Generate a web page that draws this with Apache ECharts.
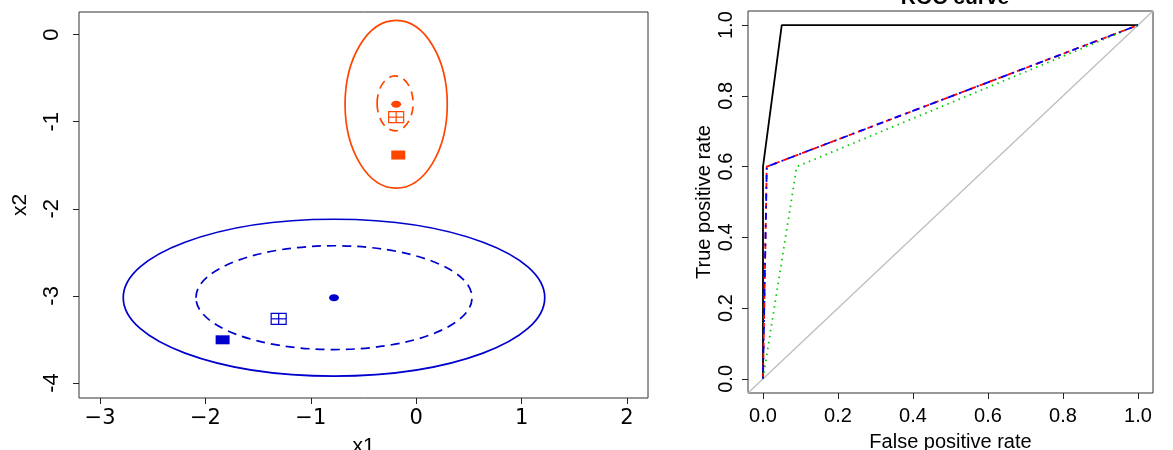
<!DOCTYPE html>
<html><head><meta charset="utf-8">
<script src="https://cdn.jsdelivr.net/npm/echarts@6/dist/echarts.min.js"></script>
<style>html,body{margin:0;padding:0;background:#fff}#c{width:1173px;height:450px}</style>
</head><body><div id="c"></div>
<script>
// ---------- left panel: class ellipses and markers ----------
const ellipseGroup = ['blue', 'blue', 'orange', 'orange'];
const ellipseLevel = ['outer', 'inner', 'outer', 'inner'];
const ellipseCx = [-0.78, -0.78, -0.19, -0.20];
const ellipseCy = [-3.02, -3.02, -0.80, -0.79];
const ellipseRx = [2.00, 1.31, 0.485, 0.171];
const ellipseRy = [0.90, 0.596, 0.963, 0.315];

const pointGroup = ['blue', 'blue', 'blue', 'orange', 'orange', 'orange'];
const pointShape = ['dot', 'boxcross', 'square', 'dot', 'boxcross', 'square'];
const pointX = [-0.78, -1.305, -1.837, -0.19, -0.19, -0.17];
const pointY = [-3.02, -3.263, -3.504, -0.80, -0.948, -1.383];

const leftXTicks = [-3, -2, -1, 0, 1, 2];
const leftYTicks = [-4, -3, -2, -1, 0];

// ---------- right panel: ROC curves ----------
const rocBlackFPR = [0, 0, 0.05, 1];
const rocBlackTPR = [0, 0.6, 1, 1];
const rocRedFPR = [0, 0.01, 1];
const rocRedTPR = [0, 0.6, 1];
const rocBlueFPR = [0, 0.01, 1];
const rocBlueTPR = [0, 0.6, 1];
const rocGreenFPR = [0, 0.09, 1];
const rocGreenTPR = [0, 0.6, 1];
const diagFPR = [-0.04, 1.04];
const diagTPR = [-0.04, 1.04];
const rocTicks = [0, 0.2, 0.4, 0.6, 0.8, 1.0];

// ---------- styling ----------
const COLORS = { blue: '#0000CD', orange: '#FF4500' };
const FONT = 'Liberation Sans';
const zip = (a, b) => a.map((v, i) => [v, b[i]]);

const ellipseData = ellipseCx.map((v, i) => [v, ellipseCy[i], ellipseRx[i], ellipseRy[i], i]);
const pointData = pointX.map((v, i) => [v, pointY[i], i]);

const chart = echarts.init(document.getElementById('c'), null, { renderer: 'canvas' });

const axisCommon = {
  splitLine: { show: false },
  axisLine: { show: false, onZero: false },
  axisTick: { show: true, inside: false, length: 6, lineStyle: { color: '#222', width: 1 } }
};

chart.setOption({
  animation: false,
  backgroundColor: '#fff',
  title: {
    text: 'ROC curve', left: 950, top: -17, textAlign: 'center',
    textStyle: { fontFamily: FONT, fontSize: 21, fontWeight: 'bold', color: '#000' }
  },
  grid: [
    { left: 79, top: 12, width: 569, height: 386, outerBoundsMode: 'none', containLabel: false,
      show: true, borderColor: '#333', borderWidth: 1, backgroundColor: 'transparent' },
    { left: 748, top: 11, width: 405, height: 382, outerBoundsMode: 'none', containLabel: false,
      show: true, borderColor: '#333', borderWidth: 1, backgroundColor: 'transparent' }
  ],
  xAxis: [
    Object.assign({}, axisCommon, {
      type: 'value', gridIndex: 0, min: -3.2, max: 2.2, position: 'bottom',
      name: 'x1', nameLocation: 'middle', nameGap: 38,
      nameTextStyle: { fontFamily: FONT, fontSize: 21, color: '#000' },
      axisTick: Object.assign({}, axisCommon.axisTick, { customValues: leftXTicks }),
      axisLabel: { customValues: leftXTicks, margin: 10, fontFamily: 'DejaVu Sans', fontSize: 21, color: '#000',
        formatter: v => String(v).replace('-', '\u2212') }
    }),
    Object.assign({}, axisCommon, {
      type: 'value', gridIndex: 1, min: -0.04, max: 1.04, position: 'bottom',
      name: 'False positive rate', nameLocation: 'middle', nameGap: 39,
      nameTextStyle: { fontFamily: FONT, fontSize: 20, color: '#000' },
      axisTick: Object.assign({}, axisCommon.axisTick, { customValues: rocTicks }),
      axisLabel: { customValues: rocTicks, margin: 13, fontFamily: FONT, fontSize: 20, color: '#000',
        formatter: v => v.toFixed(1) }
    })
  ],
  yAxis: [
    Object.assign({}, axisCommon, {
      type: 'value', gridIndex: 0, min: -4.172, max: 0.259, position: 'left',
      name: 'x2', nameLocation: 'middle', nameGap: 48,
      nameTextStyle: { fontFamily: FONT, fontSize: 21, color: '#000' },
      axisTick: Object.assign({}, axisCommon.axisTick, { customValues: leftYTicks }),
      axisLabel: { customValues: leftYTicks, rotate: 90, margin: 16, fontFamily: FONT, fontSize: 22, color: '#000' }
    }),
    Object.assign({}, axisCommon, {
      type: 'value', gridIndex: 1, min: -0.04, max: 1.04, position: 'left',
      name: 'True positive rate', nameLocation: 'middle', nameGap: 34,
      nameTextStyle: { fontFamily: FONT, fontSize: 20, color: '#000' },
      axisTick: Object.assign({}, axisCommon.axisTick, { customValues: rocTicks }),
      axisLabel: { customValues: rocTicks, rotate: 90, margin: 12, fontFamily: FONT, fontSize: 20, color: '#000',
        formatter: v => v.toFixed(1) }
    })
  ],
  series: [
    {
      type: 'custom', xAxisIndex: 0, yAxisIndex: 0, data: ellipseData, silent: true,
      encode: { x: 0, y: 1 },
      renderItem: (params, api) => {
        const i = api.value(4);
        const c = api.coord([api.value(0), api.value(1)]);
        const s = api.size([api.value(2), api.value(3)]);
        const dashed = ellipseLevel[i] === 'inner';
        return {
          type: 'ellipse',
          shape: { cx: c[0], cy: c[1], rx: s[0], ry: s[1] },
          style: { fill: null, stroke: COLORS[ellipseGroup[i]], lineWidth: 1.7, lineDash: dashed ? [9, 6] : null }
        };
      }
    },
    {
      type: 'custom', xAxisIndex: 0, yAxisIndex: 0, data: pointData, silent: true,
      encode: { x: 0, y: 1 },
      renderItem: (params, api) => {
        const i = api.value(2);
        const c = api.coord([api.value(0), api.value(1)]);
        const col = COLORS[pointGroup[i]];
        const shp = pointShape[i];
        if (shp === 'dot') {
          return { type: 'ellipse', shape: { cx: c[0], cy: c[1], rx: 5, ry: 3.5 }, style: { fill: col } };
        }
        if (shp === 'square') {
          return { type: 'rect', shape: { x: c[0] - 7, y: c[1] - 4.5, width: 14, height: 9 }, style: { fill: col } };
        }
        const w = 15, h = 11;
        return {
          type: 'group',
          children: [
            { type: 'rect', shape: { x: c[0] - w / 2, y: c[1] - h / 2, width: w, height: h }, style: { fill: null, stroke: col, lineWidth: 1.2 } },
            { type: 'line', shape: { x1: c[0], y1: c[1] - h / 2, x2: c[0], y2: c[1] + h / 2 }, style: { stroke: col, lineWidth: 1.2 } },
            { type: 'line', shape: { x1: c[0] - w / 2, y1: c[1], x2: c[0] + w / 2, y2: c[1] }, style: { stroke: col, lineWidth: 1.2 } }
          ]
        };
      }
    },
    { type: 'line', xAxisIndex: 1, yAxisIndex: 1, data: zip(diagFPR, diagTPR), symbol: 'none',
      lineStyle: { color: '#BEBEBE', width: 1.3 } },
    { type: 'line', xAxisIndex: 1, yAxisIndex: 1, data: zip(rocBlackFPR, rocBlackTPR), symbol: 'none',
      lineStyle: { color: '#000', width: 1.8 } },
    { type: 'line', xAxisIndex: 1, yAxisIndex: 1, data: zip(rocRedFPR, rocRedTPR), symbol: 'none',
      lineStyle: { color: '#FF0000', width: 1.8, type: [6, 4] } },
    { type: 'line', xAxisIndex: 1, yAxisIndex: 1, data: zip(rocGreenFPR, rocGreenTPR), symbol: 'none',
      lineStyle: { color: '#00CD00', width: 1.8, type: [1.5, 4.5] } },
    { type: 'line', xAxisIndex: 1, yAxisIndex: 1, data: zip(rocBlueFPR, rocBlueTPR), symbol: 'none',
      lineStyle: { color: '#0000FF', width: 1.8, type: [2, 5, 7, 5] } }
  ]
});
</script>
</body></html>
